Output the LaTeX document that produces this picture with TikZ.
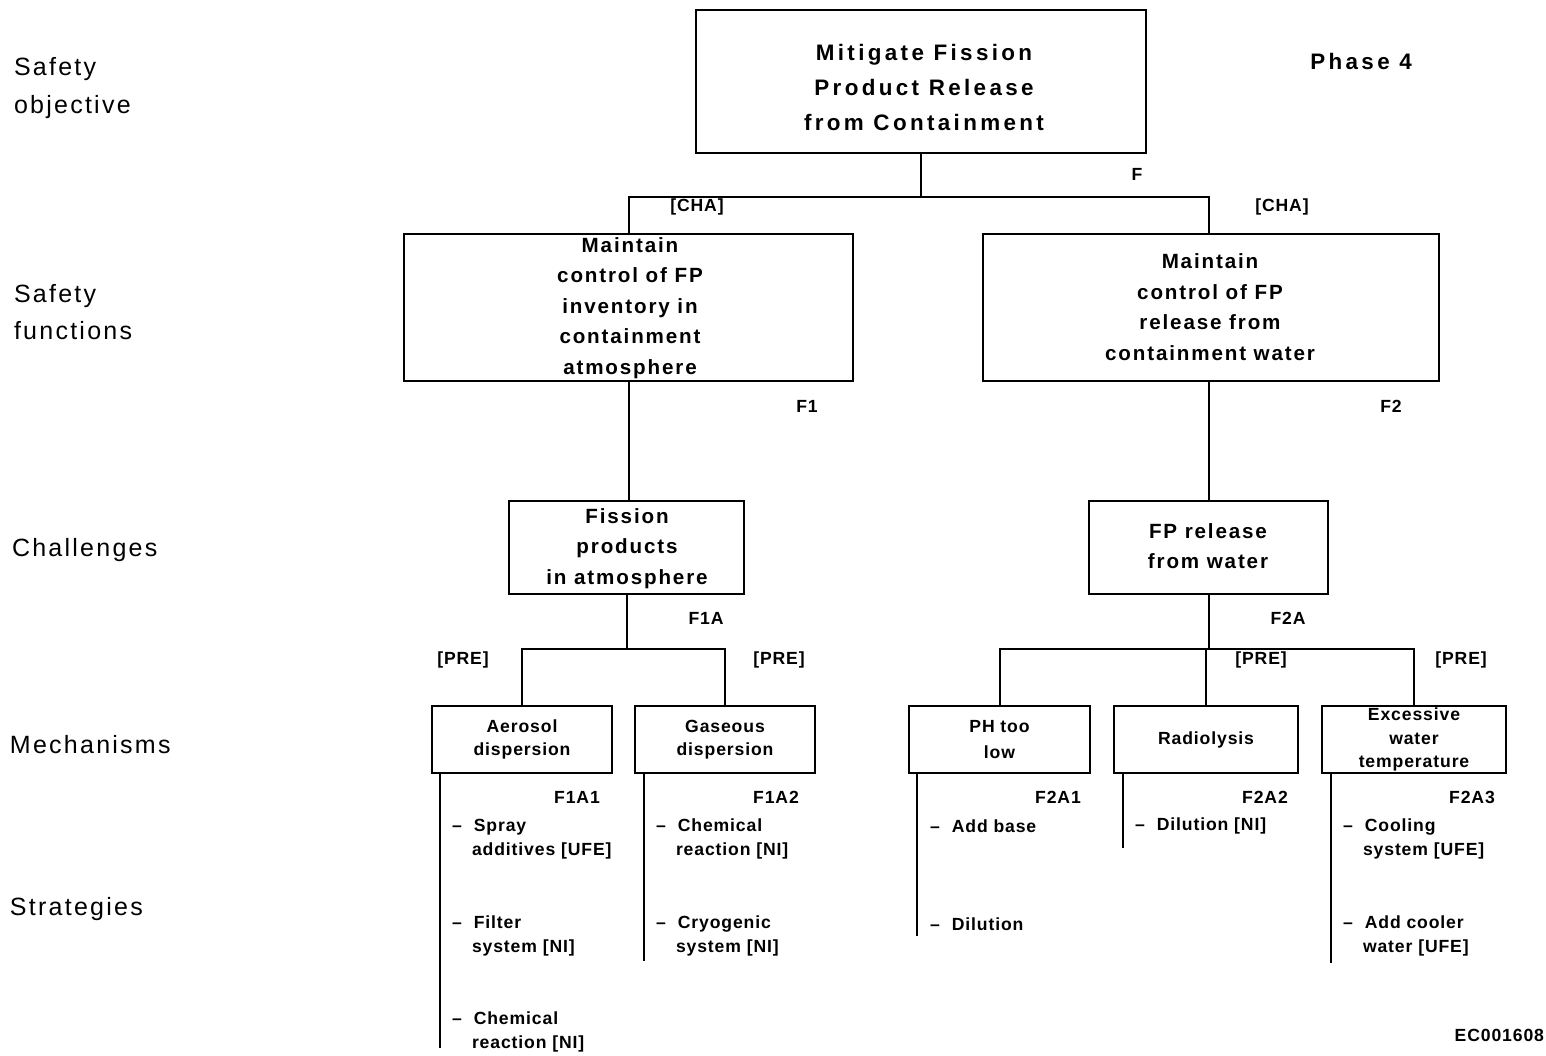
\documentclass[tikz,border=0pt]{standalone}
\usepackage{fontspec}
\setmainfont{Liberation Sans}
\newfontfamily\topfont{Liberation Sans}[LetterSpace=15]
\newfontfamily\midfont{Liberation Sans}[LetterSpace=9, WordSpace=1.4]
\newfontfamily\sidefont{Liberation Sans}[LetterSpace=9]
\newfontfamily\smallfont{Liberation Sans}[LetterSpace=5]
\newcommand\sdash{–\hspace{6pt}}
\newcommand\sindent{\hspace*{10pt}}
\usetikzlibrary{calc}

\begin{document}
\begin{tikzpicture}[x=0.5pt,y=-0.5pt, line width=1pt,
  box/.style={draw, line width=1pt, inner sep=0pt},
  toptxt/.style={align=center, inner sep=0pt, font=\topfont\bfseries\fontsize{11.2}{17.5}\selectfont},
  bigtxt/.style={align=center, inner sep=0pt, font=\midfont\bfseries\fontsize{10.3}{15.25}\selectfont},
  sidetxt/.style={align=left, anchor=west, inner sep=0pt, font=\sidefont\fontsize{12.5}{18.75}\selectfont},
  mechbox/.style={box, align=center, font=\smallfont\bfseries\fontsize{8.8}{11.75}\selectfont},
  strat/.style={align=left, anchor=west, inner sep=0pt, font=\smallfont\bfseries\fontsize{8.8}{12}\selectfont},
  tag/.style={inner sep=0pt, font=\smallfont\bfseries\fontsize{8.8}{12}\selectfont}
]
\useasboundingbox (0,0) rectangle (1546,1055);

% row labels on the left
\node[sidetxt] (lObj) at (13,88) {Safety\\objective};
\node[sidetxt] (lFun) at (13,312) {Safety\\functions};
\node[sidetxt] (lCha) at (11,550) {Challenges};
\node[sidetxt] (lMec) at (9,745) {Mechanisms};
\node[sidetxt] (lStr) at (9,909) {Strategies};

% safety objective
\node[box, minimum width=225pt, minimum height=71.5pt] (top) at (921,81.5) {};
\node[toptxt] (topT) at (924,87) {Mitigate Fission\\Product Release\\from Containment};
\node[toptxt] (phase) at (1361,61) {Phase 4};
\node[tag] (idF) at (1137,174) {F};

% safety functions
\node[box, minimum width=224.5pt, minimum height=73.5pt] (fL) at (628.5,307.5) {};
\node[bigtxt] (fLT) at (630,308) {Maintain\\control of FP\\inventory in\\containment\\atmosphere};
\node[box, minimum width=228pt, minimum height=73.5pt] (fR) at (1211,307.5) {};
\node[bigtxt] (fRT) at (1210,307) {Maintain\\control of FP\\release from\\containment water};
\node[tag] (idF1) at (807,406) {F1};
\node[tag] (idF2) at (1391,406) {F2};
\node[tag] (chaL) at (697,207) {[CHA]};
\node[tag] (chaR) at (1282,207) {[CHA]};

% challenges
\node[box, minimum width=117.5pt, minimum height=46.5pt] (cL) at (626.5,547.5) {};
\node[bigtxt] (cLT) at (627,548.5) {Fission\\products\\in atmosphere};
\node[box, minimum width=119.5pt, minimum height=46.5pt] (cR) at (1208.5,547.5) {};
\node[bigtxt] (cRT) at (1208,546) {FP release\\from water};
\node[tag] (idF1A) at (706,618) {F1A};
\node[tag] (idF2A) at (1288,618) {F2A};
\node[tag] (preA) at (463,660) {[PRE]};
\node[tag] (preB) at (779,660) {[PRE]};
\node[tag] (preC) at (1261,660) {[PRE]};
\node[tag] (preD) at (1461,660) {[PRE]};

% mechanisms
\node[mechbox, minimum width=90pt, minimum height=33.5pt] (mA) at (522,739.5) {Aerosol\\dispersion};
\node[mechbox, minimum width=90pt, minimum height=33.5pt] (mG) at (725,739.5) {Gaseous\\dispersion};
\node[mechbox, minimum width=90.5pt, minimum height=33.5pt] (mP) at (999.5,739.5) {\raisebox{1pt}{PH too}\\low};
\node[mechbox, minimum width=92pt, minimum height=33.5pt] (mR) at (1206,739.5) {\raisebox{-1pt}{Radiolysis}};
\node[mechbox, minimum width=92pt, minimum height=33.5pt] (mE) at (1414,739.5) {\raisebox{-1.5pt}{Excessive}\\\raisebox{-1.5pt}{water}\\\raisebox{-1.5pt}{temperature}};
\node[tag] (idA1) at (577,797) {F1A1};
\node[tag] (idA2) at (776,797) {F1A2};
\node[tag] (idB1) at (1058,797) {F2A1};
\node[tag] (idB2) at (1265,797) {F2A2};
\node[tag] (idB3) at (1472,797) {F2A3};

% strategies
\node[strat] (sA1) at (451,839) {\sdash Spray\\\sindent additives [UFE]};
\node[strat] (sA2) at (451,935.5) {\sdash Filter\\\sindent system [NI]};
\node[strat] (sA3) at (451,1031.5) {\sdash Chemical\\\sindent reaction [NI]};
\node[strat] (sG1) at (655,839) {\sdash Chemical\\\sindent reaction [NI]};
\node[strat] (sG2) at (655,936) {\sdash Cryogenic\\\sindent system [NI]};
\node[strat] (sP1) at (929,826) {\sdash Add base};
\node[strat] (sP2) at (929,924) {\sdash Dilution};
\node[strat] (sR1) at (1134,826) {\sdash Dilution [NI]};
\node[strat] (sE1) at (1342,839) {\sdash Cooling\\\sindent system [UFE]};
\node[strat] (sE2) at (1342,936) {\sdash Add cooler\\\sindent water [UFE]};
\node[tag, anchor=east] (code) at (1545,1035) {EC001608};

% tree connectors
\coordinate (bus0) at (0,197);
\coordinate (bus1) at (0,649);
\draw (top.south) -- (top.south |- bus0);
\draw (fL.north) |- (top.south |- bus0) -| ([xshift=-1pt]fR.north);
\draw (fL.south) -- (fL.south |- cL.north);
\draw ([xshift=-1pt]fR.south) -- ([xshift=-1pt]fR.south |- cR.north);
\draw (cL.south) -- (cL.south |- bus1);
\draw (mA.north) |- (cL.south |- bus1) -| (mG.north);
\draw (cR.south) -- (cR.south |- bus1);
\draw (mP.north) |- (cR.south |- bus1) -| (mE.north);
\draw (mR.north) -- (mR.north |- bus1);

% strategy stems
\draw ([xshift=4.5pt]mA.south west) -- +(0,274);
\draw ([xshift=5pt]mG.south west) -- +(0,187);
\draw ([xshift=4.5pt]mP.south west) -- +(0,162);
\draw ([xshift=5pt]mR.south west) -- +(0,74);
\draw ([xshift=5pt]mE.south west) -- +(0,189);
\end{tikzpicture}
\end{document}
